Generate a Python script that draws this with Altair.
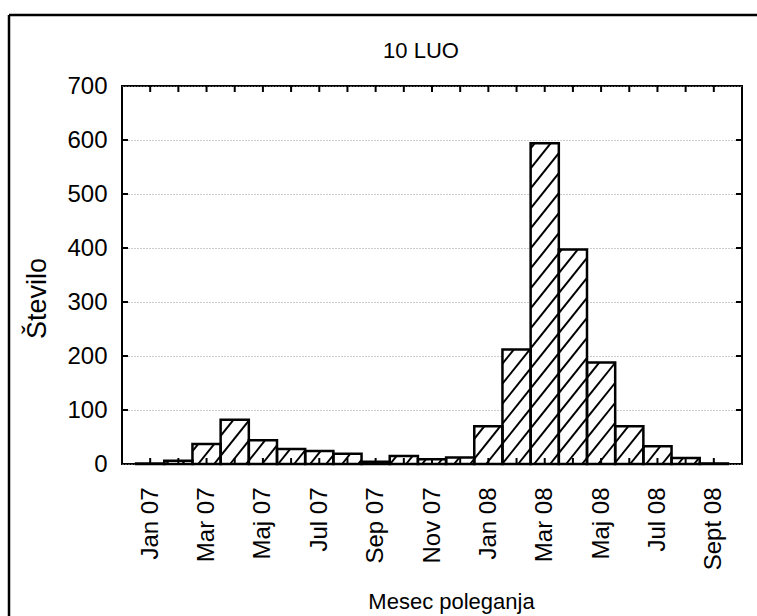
import json
import math
import altair as alt
import pandas as pd

# ---- data ----
months = ["Jan 07", "Feb 07", "Mar 07", "Apr 07", "Maj 07", "Jun 07", "Jul 07",
          "Avg 07", "Sep 07", "Okt 07", "Nov 07", "Dec 07", "Jan 08", "Feb 08",
          "Mar 08", "Apr 08", "Maj 08", "Jun 08", "Jul 08", "Avg 08", "Sept 08"]
counts = [1, 6, 37, 82, 44, 28, 24, 19, 4, 15, 9, 12, 70, 212, 594, 397, 188,
          70, 33, 11, 1]
tick_labels = ["Jan 07", "Mar 07", "Maj 07", "Jul 07", "Sep 07", "Nov 07",
               "Jan 08", "Mar 08", "Maj 08", "Jul 08", "Sept 08"]
tick_positions = [0, 2, 4, 6, 8, 10, 12, 14, 16, 18, 20]
y_ticks = [0, 100, 200, 300, 400, 500, 600, 700]
chart_title = "10 LUO"
x_title = "Mesec poleganja"
y_title = "Število"

# ---- layout ----
W, H = 620, 378
X_MIN, X_MAX = -1, 21
Y_MAX = 700
FONT = "Liberation Sans"
LFS = 24

bars = pd.DataFrame({"month": months, "i": list(range(len(months))), "count": counts})
bars["x0"] = bars["i"] - 0.5
bars["x1"] = bars["i"] + 0.5
bars["zero"] = 0

# hatch segments ("/") clipped to each bar, in data units
px_x = W / (X_MAX - X_MIN)
px_y = H / Y_MAX
slope_px = 1.25
gap_px = 20
m = slope_px * px_x / px_y
d = gap_px / px_y
segs = []
for i, v in enumerate(counts):
    xa, xb = i - 0.5, i + 0.5
    if v <= 0:
        continue
    k_lo = math.floor((-m * xb) / d) - 1
    k_hi = math.ceil((v - m * xa) / d) + 1
    for k in range(k_lo, k_hi + 1):
        b = k * d
        lo = max(xa, -b / m)
        hi = min(xb, (v - b) / m)
        if hi > lo:
            segs.append({"x0": lo, "count": m * lo + b, "x1": hi, "zero": m * hi + b})
hatch = pd.DataFrame(segs)

label_arr = [""] * len(months)
for p, lab in zip(tick_positions, tick_labels):
    label_arr[p] = lab
label_expr = json.dumps(label_arr) + "[datum.value]"

xscale = alt.Scale(domain=[X_MIN, X_MAX], nice=False, zero=False)
yscale = alt.Scale(domain=[0, Y_MAX], nice=False, zero=True)

xaxis = alt.Axis(values=tick_positions, labelExpr=label_expr, labelAngle=270,
                 ticks=False, domain=False, grid=False,
                 labelFontSize=LFS, labelFont=FONT, labelColor="black",
                 labelPadding=23, title=x_title,
                 titleFont=FONT, titleFontSize=22, titleFontWeight="normal",
                 titleColor="black", titleBaseline="alphabetic", titleAlign="center",
                 titleX=329, titleY=144)
yaxis = alt.Axis(values=y_ticks, ticks=False, domain=False, grid=True,
                 gridDash=[1, 2], gridColor="#9a9a9a", gridWidth=1,
                 labelFontSize=LFS, labelFont=FONT, labelColor="black",
                 labelPadding=15, title=y_title,
                 titleFont=FONT, titleFontSize=27, titleFontWeight="normal",
                 titleColor="black", titleBaseline="alphabetic", titleAlign="center",
                 titleX=-77, titleY=212)

X = lambda f: alt.X(f, scale=xscale, axis=xaxis)
Y = lambda f: alt.Y(f, scale=yscale, axis=yaxis)

bar_fill = alt.Chart(bars).mark_rect(fill="white", stroke=None).encode(
    x=X("x0:Q"), x2="x1:Q", y=Y("count:Q"), y2="zero:Q")

hatch_lines = alt.Chart(hatch).mark_rule(color="black", strokeWidth=2).encode(
    x=X("x0:Q"), x2="x1:Q", y=Y("count:Q"), y2="zero:Q")

bar_outline = alt.Chart(bars).mark_rect(fill=None, stroke="black", strokeWidth=2.5).encode(
    x=X("x0:Q"), x2="x1:Q", y=Y("count:Q"), y2="zero:Q")

ytick_df = pd.DataFrame({"count": y_ticks[1:-1]})
left_ticks = alt.Chart(ytick_df).mark_rule(color="black", strokeWidth=2).encode(
    y=Y("count:Q"), x=alt.value(0), x2=alt.value(6))
right_ticks = alt.Chart(ytick_df).mark_rule(color="black", strokeWidth=2).encode(
    y=Y("count:Q"), x=alt.value(W - 6), x2=alt.value(W))

xtick_df = pd.DataFrame({"x0": list(range(len(months)))})
top_ticks = alt.Chart(xtick_df).mark_rule(color="black", strokeWidth=2).encode(
    x=X("x0:Q"), y=alt.value(0), y2=alt.value(6))
bottom_ticks = alt.Chart(xtick_df).mark_rule(color="black", strokeWidth=2).encode(
    x=X("x0:Q"), y=alt.value(H - 6), y2=alt.value(H))

one = pd.DataFrame({"label": [chart_title]})
title_text = alt.Chart(one).mark_text(
    font=FONT, fontSize=22, color="black", align="center", baseline="alphabetic"
).encode(text="label:N", x=alt.value(299), y=alt.value(-28))

border_v = alt.Chart(one).mark_rule(color="black", strokeWidth=2.5).encode(
    x=alt.value(-113), y=alt.value(-71), y2=alt.value(H + 300))
border_h = alt.Chart(one).mark_rule(color="black", strokeWidth=2.5).encode(
    y=alt.value(-71), x=alt.value(-113), x2=alt.value(W + 300))

chart = alt.layer(
    bar_fill, bottom_ticks, hatch_lines, bar_outline, left_ticks, right_ticks,
    top_ticks, title_text, border_v, border_h,
).properties(
    width=W, height=H,
    autosize=alt.AutoSizeParams(type="none"),
    padding={"left": 122, "top": 86, "right": 15, "bottom": 152},
    background="white",
).configure_view(stroke="black", strokeWidth=2)

chart.save("out.html", embed_options={"renderer": "svg", "actions": False})
